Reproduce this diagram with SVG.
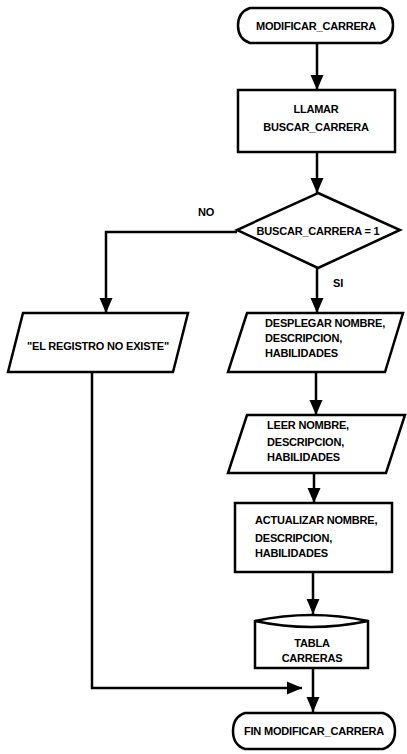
<svg xmlns="http://www.w3.org/2000/svg" width="407" height="754" viewBox="0 0 407 754">
<style>
.shape{fill:#fff;stroke:#000;stroke-width:2.5}
.edge{fill:none;stroke:#000;stroke-width:2.5}
text{font-family:"Liberation Sans","DejaVu Sans",sans-serif;font-size:11px;font-weight:bold;fill:#000;letter-spacing:-0.2px}
.c{text-anchor:middle}
</style>
<defs>
<marker id="ah" markerUnits="userSpaceOnUse" markerWidth="16" markerHeight="16" viewBox="0 0 16 16" refX="15" refY="8" orient="auto">
<path d="M0,1.5 L15,8 L0,14.5 Z" fill="#000"/>
</marker>
</defs>
<rect width="407" height="754" fill="#fff"/>
<g id="edges">
<line class="edge" x1="317" y1="43" x2="317" y2="90" marker-end="url(#ah)"/>
<line class="edge" x1="317" y1="152" x2="317" y2="193" marker-end="url(#ah)"/>
<polyline class="edge" points="237,232 106,232 106,313" marker-end="url(#ah)"/>
<line class="edge" x1="317" y1="268" x2="317" y2="313" marker-end="url(#ah)"/>
<line class="edge" x1="316" y1="372" x2="316" y2="415" marker-end="url(#ah)"/>
<line class="edge" x1="314" y1="473" x2="314" y2="503" marker-end="url(#ah)"/>
<line class="edge" x1="313" y1="572" x2="313" y2="614" marker-end="url(#ah)"/>
<line class="edge" x1="313" y1="668" x2="313" y2="712" marker-end="url(#ah)"/>
<polyline class="edge" points="92,372 92,688 302,688" marker-end="url(#ah)"/>
</g>
<g id="n_start">
<path class="shape" d="M250,8 H381 Q393,12 393,25.5 Q393,39 381,43 H250 Q238,39 238,25.5 Q238,12 250,8 Z"/>
<text class="c" x="316" y="30">MODIFICAR_CARRERA</text>
</g>
<g id="n_llamar">
<rect class="shape" x="238" y="90" width="157" height="62"/>
<text class="c" x="316" y="113">LLAMAR</text>
<text class="c" x="316" y="131">BUSCAR_CARRERA</text>
</g>
<g id="n_decision">
<polygon class="shape" points="318,193 400,230 318,268 237,230"/>
<text class="c" x="318" y="235">BUSCAR_CARRERA = 1</text>
</g>
<text x="198" y="216">NO</text>
<text x="333" y="287">SI</text>
<g id="n_noexiste">
<polygon class="shape" points="23,313 188,313 173,372 8,372"/>
<text class="c" x="98" y="350">"EL REGISTRO NO EXISTE"</text>
</g>
<g id="n_desplegar">
<polygon class="shape" points="247,313 403,313 385,372 228,372"/>
<text x="265" y="327">DESPLEGAR NOMBRE,</text>
<text x="265" y="342">DESCRIPCION,</text>
<text x="265" y="357">HABILIDADES</text>
</g>
<g id="n_leer">
<polygon class="shape" points="247,415 405,415 386,473 228,473"/>
<text x="267" y="429">LEER NOMBRE,</text>
<text x="267" y="446">DESCRIPCION,</text>
<text x="267" y="461">HABILIDADES</text>
</g>
<g id="n_actualizar">
<rect class="shape" x="235" y="503" width="157" height="69"/>
<text x="255" y="524">ACTUALIZAR NOMBRE,</text>
<text x="255" y="542">DESCRIPCION,</text>
<text x="255" y="557">HABILIDADES</text>
</g>
<g id="n_tabla">
<path class="shape" d="M255,621 Q311,609 368,621 V668 H255 Z"/>
<path class="edge" d="M255,621 Q311,633 368,621"/>
<text class="c" x="312" y="647">TABLA</text>
<text class="c" x="312" y="662">CARRERAS</text>
</g>
<g id="n_fin">
<path class="shape" d="M245,713 H383 Q395,717 395,731 Q395,745 383,749 H245 Q233,745 233,731 Q233,717 245,713 Z"/>
<text class="c" x="314" y="735">FIN MODIFICAR_CARRERA</text>
</g>
</svg>
